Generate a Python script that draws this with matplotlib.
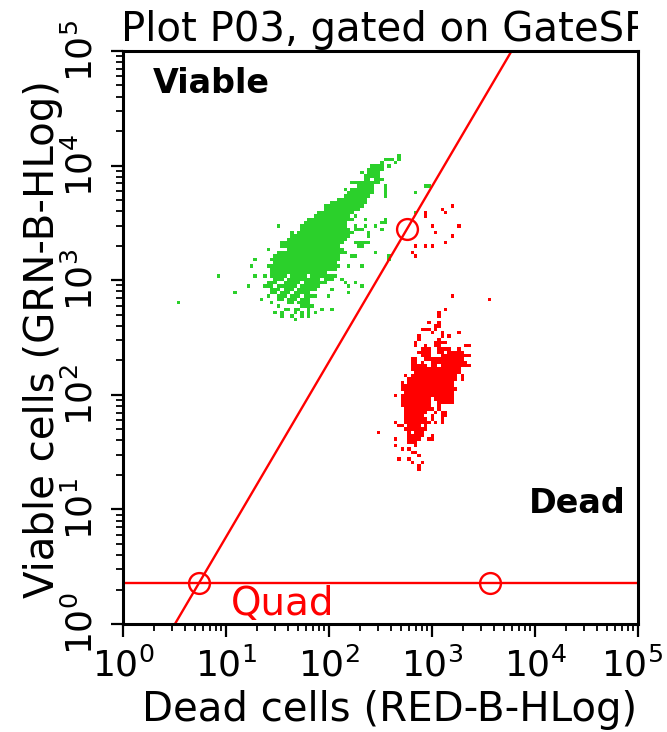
import numpy as np
import matplotlib
matplotlib.use("Agg")
import matplotlib.pyplot as plt
from matplotlib.colors import ListedColormap
from matplotlib.transforms import Bbox, TransformedBbox, ScaledTranslation

# 2D histogram grid: log10 decades 0..5 on both axes
NX = 154
NY = 172
DECADES = 5

# green (viable) population: (row bin, [(first col bin, last col bin), ...])
green_rows = [
    (140, [(82, 82)]),
    (139, [(78, 80), (82, 82)]),
    (138, [(77, 77), (81, 81)]),
    (137, [(74, 77), (79, 79)]),
    (136, [(73, 77)]),
    (135, [(71, 71), (73, 76)]),
    (134, [(72, 76)]),
    (133, [(72, 73), (75, 77)]),
    (132, [(68, 76)]),
    (131, [(70, 74), (78, 78)]),
    (130, [(66, 66), (68, 74)]),
    (129, [(67, 74), (78, 78)]),
    (128, [(66, 73)]),
    (127, [(64, 72)]),
    (126, [(62, 72)]),
    (125, [(60, 71)]),
    (124, [(60, 70)]),
    (123, [(58, 68)]),
    (122, [(57, 67), (69, 69)]),
    (121, [(55, 68), (72, 72), (78, 78)]),
    (120, [(54, 66), (77, 77)]),
    (119, [(46, 46), (53, 66), (69, 69), (72, 72), (75, 75)]),
    (118, [(53, 67), (69, 71)]),
    (117, [(50, 50), (52, 68), (73, 73)]),
    (116, [(50, 67), (73, 73)]),
    (115, [(49, 66)]),
    (114, [(47, 65), (69, 73)]),
    (113, [(47, 64), (70, 71)]),
    (112, [(43, 43), (49, 65)]),
    (111, [(46, 66), (75, 75)]),
    (110, [(45, 64), (68, 69), (79, 79)]),
    (109, [(39, 39), (44, 64)]),
    (108, [(45, 63)]),
    (107, [(38, 38), (43, 64), (67, 67), (71, 71)]),
    (106, [(44, 63)]),
    (105, [(44, 60)]),
    (104, [(28, 28), (39, 39), (42, 42), (44, 48), (50, 54), (56, 63)]),
    (103, [(45, 47), (49, 58), (60, 62), (65, 65)]),
    (102, [(43, 45), (48, 52), (54, 60), (66, 66), (69, 69)]),
    (101, [(37, 37), (42, 44), (46, 51), (53, 58), (67, 67), (71, 71)]),
    (100, [(44, 46), (48, 50), (52, 57), (62, 62)]),
    (99, [(33, 33), (44, 45), (47, 49), (51, 55), (67, 67)]),
    (98, [(43, 43), (46, 48), (50, 52), (54, 57), (61, 61)]),
    (97, [(41, 41), (46, 47), (49, 51), (53, 55)]),
    (96, [(16, 16), (44, 44), (49, 50), (52, 55)]),
    (95, [(46, 46), (53, 56)]),
    (94, [(48, 49), (51, 52), (55, 55), (59, 59), (62, 62)]),
    (93, [(45, 45), (47, 47), (51, 51), (53, 53), (55, 55), (57, 57)]),
    (92, [(47, 47), (50, 50), (53, 53), (55, 55)]),
    (91, [(51, 51)]),
]
green_stray = [(78, 130), (78, 128), (78, 120), (77, 118), (90, 131),
               (91, 131), (87, 129), (87, 123), (79, 109)]

# red (dead) population
red_rows = [
    (94, [(96, 96)]),
    (93, [(94, 94)]),
    (92, [(94, 94)]),
    (90, [(91, 91), (94, 94)]),
    (89, [(93, 94)]),
    (88, [(89, 91), (93, 93)]),
    (87, [(92, 92), (95, 95), (100, 100)]),
    (86, [(88, 88), (95, 95), (97, 97)]),
    (85, [(88, 88), (94, 94)]),
    (84, [(87, 87), (93, 96)]),
    (83, [(87, 87), (90, 90), (93, 94), (102, 103)]),
    (82, [(89, 91), (94, 97), (100, 100)]),
    (81, [(88, 91), (94, 95), (97, 101)]),
    (80, [(89, 91), (95, 103)]),
    (79, [(86, 87), (90, 101)]),
    (78, [(86, 87), (89, 89), (92, 102)]),
    (77, [(86, 90), (92, 93), (95, 103)]),
    (76, [(86, 100)]),
    (75, [(87, 100)]),
    (74, [(84, 84), (86, 99), (101, 101)]),
    (73, [(85, 99), (101, 101)]),
    (72, [(83, 83), (85, 98)]),
    (71, [(83, 98)]),
    (70, [(83, 99)]),
    (69, [(84, 98)]),
    (68, [(81, 81), (83, 98)]),
    (67, [(83, 91), (93, 98)]),
    (66, [(83, 91), (94, 98)]),
    (65, [(83, 91), (94, 94)]),
    (64, [(84, 91), (92, 92), (94, 94)]),
    (63, [(84, 90), (93, 93), (95, 96)]),
    (62, [(84, 89), (92, 92), (95, 96)]),
    (61, [(84, 89), (90, 90), (92, 92), (95, 95)]),
    (60, [(81, 81), (84, 88), (89, 91), (93, 93), (95, 95)]),
    (59, [(82, 83), (85, 88), (90, 90)]),
    (58, [(84, 90)]),
    (57, [(76, 76), (85, 85), (87, 89)]),
    (56, [(85, 89), (92, 92)]),
    (55, [(81, 81), (85, 88), (91, 92)]),
    (54, [(85, 87)]),
    (53, [(81, 81), (87, 87)]),
    (52, [(83, 83), (85, 85)]),
    (51, [(86, 87)]),
    (50, [(88, 88)]),
    (49, [(82, 82), (85, 85)]),
    (48, [(86, 86), (89, 89)]),
    (47, [(88, 88)]),
    (46, [(88, 88)]),
]
red_stray = [(98, 125), (95, 124), (96, 123), (90, 123), (90, 122), (92, 119),
             (100, 119), (93, 117), (98, 116), (96, 114), (87, 113), (90, 113),
             (92, 113), (86, 111), (87, 110), (98, 98), (109, 97)]

# quadrant gate
quad_y = 2.28
quad_handles_x = [5.47, 3656]
diag_point = (572, 2799)

tick_values = [1, 10, 100, 1000, 10000, 100000]
tick_labels = [r"$\mathregular{10^{%d}}$" % k for k in range(6)]

GREEN = "#2bd02b"
RED = "#ff0000"


def fill(grid, rows, stray, value):
    for r, runs in rows:
        for a, b in runs:
            grid[r, a:b + 1] = value
    for c, r in stray:
        grid[r, c] = value


grid = np.zeros((NY, NX))
fill(grid, green_rows, green_stray, 1)
fill(grid, red_rows, red_stray, 2)

fig = plt.figure(figsize=(6.67, 7.32), dpi=100)
ax = fig.add_axes([123 / 667, (732 - 624) / 732, 515 / 667, 573 / 732])

x_edges = 10 ** np.linspace(0, DECADES, NX + 1)
y_edges = 10 ** np.linspace(0, DECADES, NY + 1)
ax.pcolormesh(x_edges, y_edges, np.ma.masked_equal(grid, 0),
              cmap=ListedColormap([GREEN, RED]), vmin=0.5, vmax=2.5,
              shading="flat", antialiased=False, edgecolors="none")

ax.set_xscale("log")
ax.set_yscale("log")
ax.set_xlim(1, 1e5)
ax.set_ylim(1, 1e5)

# gate lines
ax.axhline(quad_y, color=RED, lw=1.7)
lx0, ly0 = np.log10(quad_handles_x[0]), np.log10(quad_y)
lx1, ly1 = np.log10(diag_point[0]), np.log10(diag_point[1])
slope = (ly1 - ly0) / (lx1 - lx0)
xb = 10 ** (lx0 + (0 - ly0) / slope)
xt = 10 ** (lx0 + (DECADES - ly0) / slope)
ax.plot([xb, xt], [1, 1e5], color=RED, lw=1.7)
ax.plot(quad_handles_x, [quad_y, quad_y], "o", ms=15, mfc="none",
        mec=RED, mew=1.7)
ax.plot([diag_point[0]], [diag_point[1]], "o", ms=15, mfc="none",
        mec=RED, mew=1.7)

ax.set_xticks(tick_values)
ax.set_xticklabels(tick_labels, fontsize=26)
ax.set_yticks(tick_values)
ax.set_yticklabels(tick_labels, fontsize=26, rotation=90, va="center")
ax.tick_params(which="major", direction="out", length=9, width=1.6, pad=8)
ax.tick_params(which="minor", direction="out", length=5, width=1.3)
for sp in ax.spines.values():
    sp.set_linewidth(2.2)

# keep the last x label inside the figure
last = ax.get_xticklabels()[-1]
last.set_transform(last.get_transform()
                   + ScaledTranslation(-6 / 100, 0, fig.dpi_scale_trans))

ax.text(0.058, 0.927, "Viable", transform=ax.transAxes, fontsize=24,
        fontweight="bold", va="baseline")
ax.text(0.975, 0.194, "Dead", transform=ax.transAxes, fontsize=24,
        fontweight="bold", ha="right", va="baseline")
ax.text(0.21, 0.016, "Quad", transform=ax.transAxes, fontsize=28,
        color=RED, va="baseline")

title = fig.text(121 / 667, 1 - 41 / 732, "Plot P03, gated on GateSP",
                 fontsize=29, va="baseline")
title.set_clip_box(TransformedBbox(Bbox([[0, 0], [638 / 667, 1]]),
                                   fig.transFigure))
title.set_clip_on(True)

fig.text(390 / 667, 1 - 721 / 732, "Dead cells (RED-B-HLog)", fontsize=29,
         ha="center", va="baseline")
fig.text(43 / 667, 1 - 339 / 732, "Viable cells (GRN-B-HLog)", fontsize=29,
         rotation=90, ha="center", va="center")

fig.savefig("out.png", dpi=100)
